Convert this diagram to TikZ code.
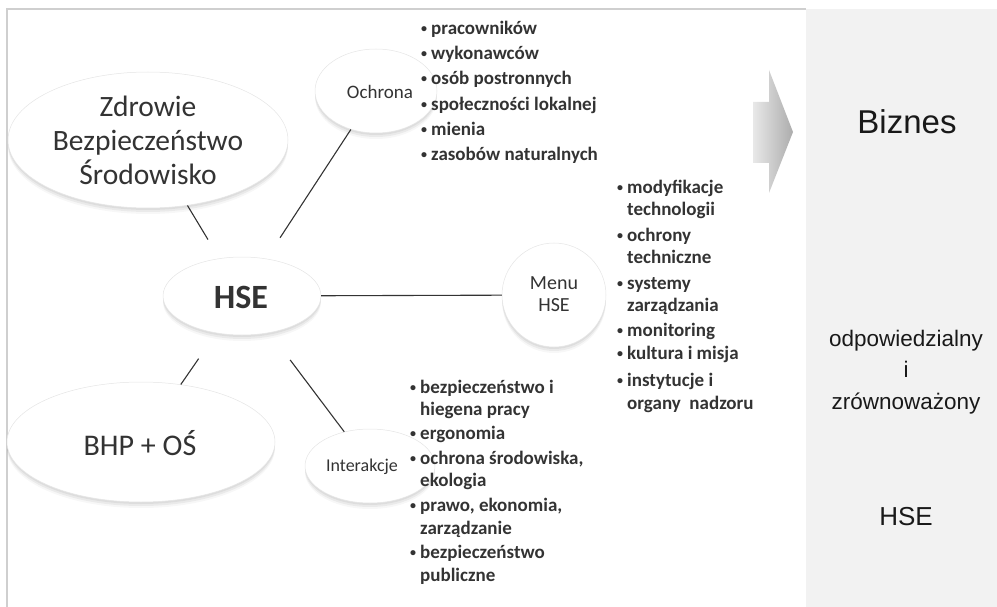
\documentclass[tikz,border=0pt]{standalone}
\usepackage{fontspec}
\setmainfont{Carlito}
\newfontfamily\arialfont{Liberation Sans}
\usetikzlibrary{shapes.geometric,shadows}
\definecolor{txt}{HTML}{333333}
\definecolor{framec}{HTML}{CFCFCF}
\definecolor{panel}{HTML}{F2F2F2}
\definecolor{linec}{HTML}{333333}
\newcommand\bul{\makebox[10pt][l]{\raisebox{2pt}{\fontsize{12}{12}\selectfont•}}}
\newcommand\ind{\hspace*{10pt}}
\begin{document}
\begin{tikzpicture}[x=1pt,y=-1pt,
  bubble/.style={ellipse, fill=white, draw=gray!20, line width=0.5pt, inner sep=0pt,
    general shadow={shadow yshift=-2pt, fill=black, opacity=0.06},
    general shadow={shadow yshift=-4pt, fill=black, opacity=0.05},
    general shadow={shadow yshift=-6pt, fill=black, opacity=0.03}},
  lbl/.style={align=center, text=txt, inner sep=0pt},
  conn/.style={draw=linec, line width=1.1pt},
  itm/.style={anchor=base west, inner sep=0pt, text=txt, font=\fontsize{19}{22}\selectfont\bfseries},
  rtxt/.style={align=center, text=black!90, inner sep=0pt}]
\useasboundingbox (0,0) rectangle (997,607);
% panels and frame
\fill[panel] (806,9) rectangle (997,607);
\draw[framec, line width=1.2pt] (7,607) -- (7,9) -- (806,9);
% arrow
\shade[left color=gray!18, right color=gray!65] (753,102) -- (769,102) -- (769,70) -- (793,132) -- (769,193) -- (769,163) -- (753,163) -- cycle;
% bubbles
\node[bubble, minimum width=280pt, minimum height=136pt] (zbs) at (148,140) {};
\node[bubble, minimum width=122pt, minimum height=84pt] (och) at (376,91) {};
\node[bubble, minimum width=158pt, minimum height=78pt] (hse) at (242,296) {};
\node[bubble, minimum width=268pt, minimum height=120pt] (bhp) at (141,442) {};
\node[bubble, circle, minimum size=104pt] (menu) at (554,295) {};
\node[bubble, minimum width=130pt, minimum height=74pt] (int) at (370,466) {};
% bubble texts
\node[lbl, font=\fontsize{29.5}{34}\selectfont] (zbsT) at (148,140) {Zdrowie\\Bezpieczeństwo\\Środowisko};
\node[lbl, font=\fontsize{19}{22}\selectfont] (ochT) at (380,92) {Ochrona};
\node[lbl, font=\fontsize{34}{40}\selectfont\bfseries] (hseT) at (241,297) {HSE};
\node[lbl, font=\fontsize{30}{34}\selectfont] (bhpT) at (140,443) {BHP + OŚ};
\node[lbl, font=\fontsize{20}{22}\selectfont] (menuT) at (554,294) {Menu\\HSE};
\node[lbl, font=\fontsize{18}{22}\selectfont] (intT) at (362,467) {Interakcje};
% connectors
\draw[conn, shorten >=22pt] (zbs) -- (hse);
\draw[conn, shorten >=25pt] (och) -- (hse);
\draw[conn] (hse) -- (menu);
\draw[conn, shorten <=31pt] (hse) -- (bhp);
\draw[conn, shorten <=34pt] (hse) -- (int);
% Ochrona list
\foreach \t [count=\i] in {pracowników, wykonawców, osób postronnych, społeczności lokalnej, mienia, zasobów naturalnych}
  \node[itm] (o\i) at (421, {28+25.2*(\i-1)+6.5}) {\bul\t};
% Menu list
\foreach \y/\t in {187/\bul modyfikacje, 209/\ind technologii, 235/\bul ochrony, 257/\ind techniczne,
  283/\bul systemy, 305/\ind zarządzania, 330/\bul monitoring, 353/\bul kultura i misja,
  380/\bul instytucje i, 403/\ind organy\ \ nadzoru}
  \node[itm] (m\y) at (617, \y+6.5) {\t};
% Interakcje list
\foreach \y/\t in {387/\bul bezpieczeństwo i, 409/\ind hiegena pracy, 433/\bul ergonomia,
  {458/\bul ochrona środowiska,}, 480/\ind ekologia, {505/\bul prawo, ekonomia,},
  528/\ind zarządzanie, 552/\bul bezpieczeństwo, 575/\ind publiczne}
  \node[itm] (n\y) at (410, \y+6.5) {\t};
% right panel
\node[rtxt, font=\arialfont\fontsize{33}{40}\selectfont] (biz) at (907,122) {Biznes};
\node[rtxt, font=\arialfont\fontsize{22.5}{31.5}\selectfont] (odp) at (906,372) {odpowiedzialny\\i\\zrównoważony};
\node[rtxt, font=\arialfont\fontsize{26}{30}\selectfont] (hseR) at (906,517) {HSE};
\end{tikzpicture}
\end{document}
